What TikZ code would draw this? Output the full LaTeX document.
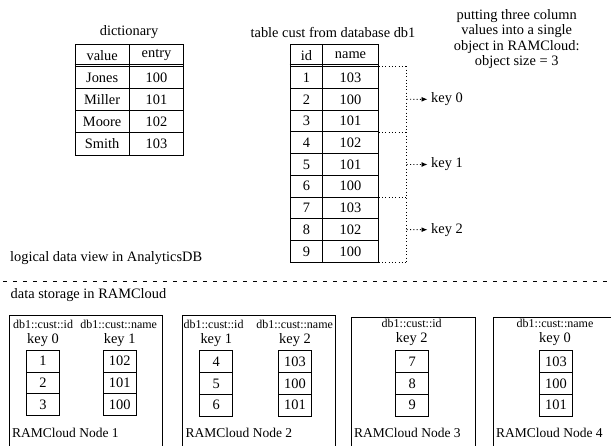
\documentclass[tikz,border=0pt]{standalone}
\usepackage{fontspec}
\setmainfont{Liberation Serif}
\usetikzlibrary{arrows.meta}
\newcommand\mysize[1]{\fontsize{#1}{#1}\selectfont}
\begin{document}
\begin{tikzpicture}[x=1pt,y=-1pt,
  txt/.style={inner sep=0pt, font=\mysize{14.4}},
  small/.style={inner sep=0pt, font=\mysize{12}},
  cell/.style={draw, line width=0.8pt, inner sep=0pt, font=\mysize{14.4}},
  dcol1/.style={cell, minimum width=54.3pt},
  dcol2/.style={cell, minimum width=54.4pt},
  ccol1/.style={cell, minimum width=32.7pt},
  ccol2/.style={cell, minimum width=55.6pt},
  kcell/.style={cell, minimum width=33pt, minimum height=21.9pt},
  frame/.style={draw=none, inner sep=0pt, minimum height=140pt, anchor=north west},
  framel/.style={line width=0.8pt},
  nlabel/.style={inner sep=0pt, font=\mysize{13.5}, anchor=west},
  dots/.style={line width=0.9pt, dash pattern=on 1pt off 2.3pt},
  keyarrow/.style={dots, -{Latex[length=6pt,width=5pt]}}
]
\useasboundingbox (0,0) rectangle (611,445);

% ---------- dictionary ----------
\node[txt] (dtitle) at (129,32.3) {dictionary};
\node[dcol1, minimum height=22.2pt] (dh1) at (102.15,55.4) {value};
\node[dcol2, minimum height=22.2pt] (dh2) at (156.5,55.4) {entry};
\draw[line width=0.8pt] ([yshift=2.4pt]dh1.south west) -- ([yshift=2.4pt]dh2.south east);
\foreach \v/\e [count=\i] in {Jones/100,Miller/101,Moore/102,Smith/103}{
  \node[dcol1, minimum height=22.1pt] (dv\i) at (102.15,{66.5+22.1*(\i-0.5)}) {\v};
  \node[dcol2, minimum height=22.1pt] (de\i) at (156.5,{66.5+22.1*(\i-0.5)}) {\e};
}

% ---------- table cust ----------
\node[txt] (ctitle) at (333,32.3) {table cust from database db1};
\node[ccol1, minimum height=22.4pt] (ch1) at (306.35,55.5) {id};
\node[ccol2, minimum height=22.4pt] (ch2) at (350.5,55.5) {name};
\draw[line width=0.8pt] ([yshift=2.4pt]ch1.south west) -- ([yshift=2.4pt]ch2.south east);
\foreach \n [count=\i] in {103,100,101,102,101,100,103,102,100}{
  \node[ccol1, minimum height=21.73pt] (ci\i) at (306.35,{66.7+21.73*(\i-0.5)}) {\i};
  \node[ccol2, minimum height=21.73pt] (cn\i) at (350.5,{66.7+21.73*(\i-0.5)}) {\n};
}

% ---------- brackets ----------
\coordinate (bx) at (406.7,0);
\draw[dots] (cn1.north east) -- (cn1.north east -| bx);
\draw[dots] (cn3.south east) -- (cn3.south east -| bx);
\draw[dots] (cn6.south east) -- (cn6.south east -| bx);
\draw[dots] (cn9.south east) -- (cn9.south east -| bx);
\draw[dots] (cn1.north east -| bx) -- (cn9.south east -| bx);
\node[txt, anchor=west] (k0) at (431,99.3) {key 0};
\node[txt, anchor=west] (k1) at (431,164.5) {key 1};
\node[txt, anchor=west] (k2) at (431,229.7) {key 2};
\draw[keyarrow, shorten >=3.5pt] (cn2.east -| bx) -- (k0.west);
\draw[keyarrow, shorten >=3.5pt] (cn5.east -| bx) -- (k1.west);
\draw[keyarrow, shorten >=3.5pt] (cn8.east -| bx) -- (k2.west);

\node[txt, align=center, font=\fontsize{14.4}{15.2}\selectfont] (expl) at (516.7,39)
  {putting three column\\values into a single\\object in RAMCloud:\\object size = 3};

% ---------- separator ----------
\node[txt, anchor=west] (logical) at (10,258.3) {logical data view in AnalyticsDB};
\draw[line width=1.4pt, dash pattern=on 4pt off 6pt] (3,281.5) -- (611,281.5);
\node[txt, anchor=west] (storage) at (10.5,295) {data storage in RAMCloud};

% ---------- RAMCloud nodes ----------
\node[frame, minimum width=152.7pt] (rc1) at (9,315) {};
\node[frame, minimum width=152.3pt] (rc2) at (182.7,315) {};
\node[frame, minimum width=123.3pt] (rc3) at (351.7,317.3) {};
\node[frame, minimum width=117.7pt] (rc4) at (493.3,317.3) {};
\foreach \r in {rc1,rc2,rc3}{
  \draw[framel] (\r.south west) -- (\r.north west) -- (\r.north east) -- (\r.south east);
}
\draw[framel] (rc4.south west) -- (rc4.north west) -- (rc4.north east);

% node 1
\node[small] (n1c1) at (43,324) {db1::cust::id};
\node[small] (n1c2) at (118.7,324) {db1::cust::name};
\node[txt] (n1k1) at (43,340.5) {key 0};
\node[txt] (n1k2) at (119.7,340.5) {key 1};
\foreach \a/\b [count=\i] in {1/102,2/101,3/100}{
  \node[kcell] (n1a\i) at (43,{350+21.9*(\i-0.5)}) {\a};
  \node[kcell] (n1b\i) at (119.7,{350+21.9*(\i-0.5)}) {\b};
}
\node[nlabel] (lab1) at (12,433.3) {RAMCloud Node 1};

% node 2
\node[small] (n2c1) at (213.5,324) {db1::cust::id};
\node[small] (n2c2) at (294.6,324) {db1::cust::name};
\node[txt] (n2k1) at (216.3,340.5) {key 1};
\node[txt] (n2k2) at (295,340.5) {key 2};
\foreach \a/\b [count=\i] in {4/103,5/100,6/101}{
  \node[kcell] (n2a\i) at (216.3,{350.5+21.9*(\i-0.5)}) {\a};
  \node[kcell] (n2b\i) at (295,{350.5+21.9*(\i-0.5)}) {\b};
}
\node[nlabel] (lab2) at (185.5,433.3) {RAMCloud Node 2};

% node 3
\node[small] (n3c1) at (411.7,323.5) {db1::cust::id};
\node[txt] (n3k1) at (411.7,339.5) {key 2};
\foreach \a [count=\i] in {7,8,9}{
  \node[kcell] (n3a\i) at (412.2,{350.5+21.9*(\i-0.5)}) {\a};
}
\node[nlabel] (lab3) at (354,433.3) {RAMCloud Node 3};

% node 4
\node[small] (n4c1) at (555,323.5) {db1::cust::name};
\node[txt] (n4k1) at (555,339.5) {key 0};
\foreach \b [count=\i] in {103,100,101}{
  \node[kcell] (n4a\i) at (556,{350.5+21.9*(\i-0.5)}) {\b};
}
\node[nlabel] (lab4) at (496,433.3) {RAMCloud Node 4};
\end{tikzpicture}
\end{document}
